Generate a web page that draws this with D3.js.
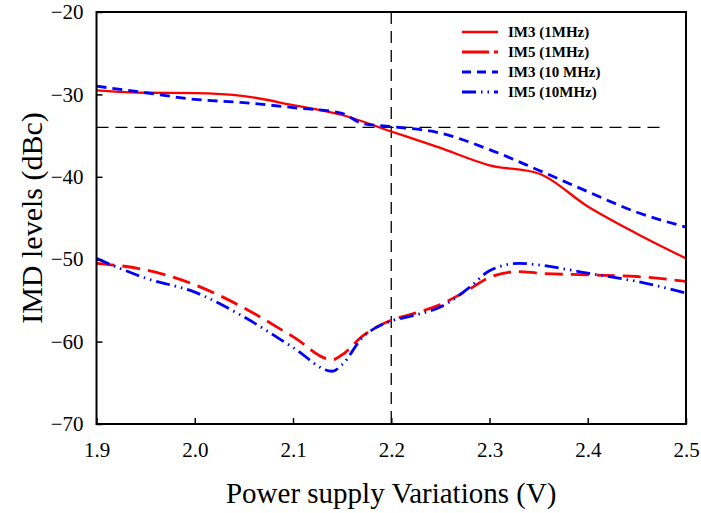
<!DOCTYPE html>
<html>
<head>
<meta charset="utf-8">
<script src="https://cdn.jsdelivr.net/npm/d3@7"></script>
<style>
  body { margin: 0; background: #fff; }
  svg text { font-family: "Liberation Serif", "Times New Roman", serif; }
</style>
</head>
<body>
<div id="chart"></div>
<script>
// supply voltage (V) and IMD levels (dBc)
var im3_1MHz_x = [1.9, 1.95, 2.0, 2.05, 2.1, 2.15, 2.2, 2.25, 2.3, 2.35, 2.4, 2.45, 2.5];
var im3_1MHz_y = [-29.5, -29.8, -29.85, -30.2, -31.3, -32.5, -34.5, -36.5, -38.6, -39.6, -43.6, -46.9, -49.9];

var im3_10MHz_x = [1.9, 1.95, 2.0, 2.05, 2.1, 2.15, 2.17, 2.2, 2.25, 2.3, 2.35, 2.4, 2.45, 2.5];
var im3_10MHz_y = [-29.0, -29.8, -30.6, -31.0, -31.6, -32.3, -33.5, -33.9, -34.7, -36.7, -39.2, -41.8, -44.3, -46.1];

var im5_1MHz_x = [1.9, 1.95, 2.0, 2.05, 2.1, 2.14, 2.15, 2.17, 2.2, 2.22, 2.25, 2.28, 2.3, 2.33, 2.35, 2.4, 2.45, 2.5];
var im5_1MHz_y = [-50.5, -51.3, -53.1, -55.9, -59.4, -62.2, -61.6, -59.4, -57.4, -56.7, -55.5, -53.6, -52.2, -51.5, -51.7, -51.9, -52.1, -52.7];

var im5_10MHz_x = [1.9, 1.95, 2.0, 2.05, 2.1, 2.14, 2.15, 2.17, 2.2, 2.22, 2.25, 2.28, 2.3, 2.33, 2.35, 2.4, 2.45, 2.5];
var im5_10MHz_y = [-49.9, -52.3, -54.0, -57.0, -60.7, -63.6, -62.8, -59.6, -57.5, -56.9, -55.8, -53.4, -51.4, -50.5, -50.7, -51.7, -52.7, -54.1];

var xTicks = [1.9, 2.0, 2.1, 2.2, 2.3, 2.4, 2.5];
var yTicks = [-20, -30, -40, -50, -60, -70];

var refLevel = -34;   // horizontal reference
var refVoltage = 2.2; // vertical reference

var series = [
  { name: "IM3 (1MHz)",   xs: im3_1MHz_x,  ys: im3_1MHz_y,  color: "#ff0000", dash: null,               key: null,               width: 2.3 },
  { name: "IM5 (1MHz)",   xs: im5_1MHz_x,  ys: im5_1MHz_y,  color: "#ff0000", dash: "18 8",             key: "27 5 5 5",         width: 2.8 },
  { name: "IM3 (10 MHz)", xs: im3_10MHz_x, ys: im3_10MHz_y, color: "#0000ff", dash: "10 6",             key: "9 6",              width: 2.8 },
  { name: "IM5 (10MHz)",  xs: im5_10MHz_x, ys: im5_10MHz_y, color: "#0000ff", dash: "14 5 1.5 5 1.5 5", key: "14 5 1.5 5 1.5 5", width: 2.8 }
];

var W = 701, H = 513;
var margin = {top: 12, right: 15, bottom: 89, left: 96.5};
var width = W - margin.left - margin.right;
var height = H - margin.top - margin.bottom;

var svg = d3.select("#chart").append("svg")
    .attr("width", W)
    .attr("height", H)
    .append("g")
    .attr("transform", "translate(" + margin.left + "," + margin.top + ")");

var x = d3.scaleLinear().domain([1.9, 2.5]).range([0, width]);
var y = d3.scaleLinear().domain([-70, -20]).range([height, 0]);

// reference lines
svg.append("line")
    .attr("x1", 0).attr("x2", x(2.48))
    .attr("y1", y(refLevel)).attr("y2", y(refLevel))
    .attr("stroke", "#000").attr("stroke-width", 1.3)
    .attr("stroke-dasharray", "12 7");
svg.append("line")
    .attr("x1", x(refVoltage)).attr("x2", x(refVoltage))
    .attr("y1", 0).attr("y2", height)
    .attr("stroke", "#000").attr("stroke-width", 1.3)
    .attr("stroke-dasharray", "12 7");

var line = d3.line()
    .x(function(d) { return x(d[0]); })
    .y(function(d) { return y(d[1]); })
    .curve(d3.curveMonotoneX);

var plot = svg.append("g");
series.forEach(function(s) {
    var pts = s.xs.map(function(v, i) { return [v, s.ys[i]]; });
    plot.append("path")
        .datum(pts)
        .attr("fill", "none")
        .attr("stroke", s.color)
        .attr("stroke-width", s.width)
        .attr("stroke-dasharray", s.dash)
        .attr("d", line);
});

// frame
svg.append("rect")
    .attr("x", 0).attr("y", 0)
    .attr("width", width).attr("height", height)
    .attr("fill", "none").attr("stroke", "#000").attr("stroke-width", 2);

// axes with inward ticks
var xAxis = svg.append("g")
    .attr("transform", "translate(0," + height + ")")
    .call(d3.axisBottom(x).tickValues(xTicks).tickSizeInner(-6).tickSizeOuter(0).tickPadding(18)
        .tickFormat(d3.format(".1f")));
var yAxis = svg.append("g")
    .call(d3.axisLeft(y).tickValues(yTicks).tickSizeInner(-6).tickSizeOuter(0).tickPadding(13));

[xAxis, yAxis].forEach(function(a) {
    a.select(".domain").remove();
    a.selectAll(".tick line").attr("stroke", "#000").attr("stroke-width", 1.5);
    a.selectAll(".tick text")
        .style("font-family", "Liberation Serif")
        .style("font-size", "21px")
        .attr("fill", "#000");
});

// axis titles
svg.append("text")
    .attr("x", width / 2)
    .attr("y", height + 79)
    .attr("text-anchor", "middle")
    .style("font-size", "29px")
    .text("Power supply Variations (V)");
svg.append("text")
    .attr("transform", "translate(" + (-54.5) + "," + (height / 2) + ") rotate(-90)")
    .attr("text-anchor", "middle")
    .style("font-size", "30px")
    .text("IMD levels (dBc)");

// legend
var legend = svg.append("g").attr("transform", "translate(" + (462 - margin.left) + "," + (32 - margin.top) + ")");
series.forEach(function(s, i) {
    var g = legend.append("g").attr("transform", "translate(0," + (i * 20) + ")");
    g.append("line")
        .attr("x1", 0).attr("x2", 36)
        .attr("y1", 0).attr("y2", 0)
        .attr("stroke", s.color)
        .attr("stroke-width", s.width)
        .attr("stroke-dasharray", s.key);
    g.append("text")
        .attr("x", 46)
        .attr("y", 5)
        .style("font-size", "15px")
        .style("font-weight", "bold")
        .text(s.name);
});
</script>
</body>
</html>
